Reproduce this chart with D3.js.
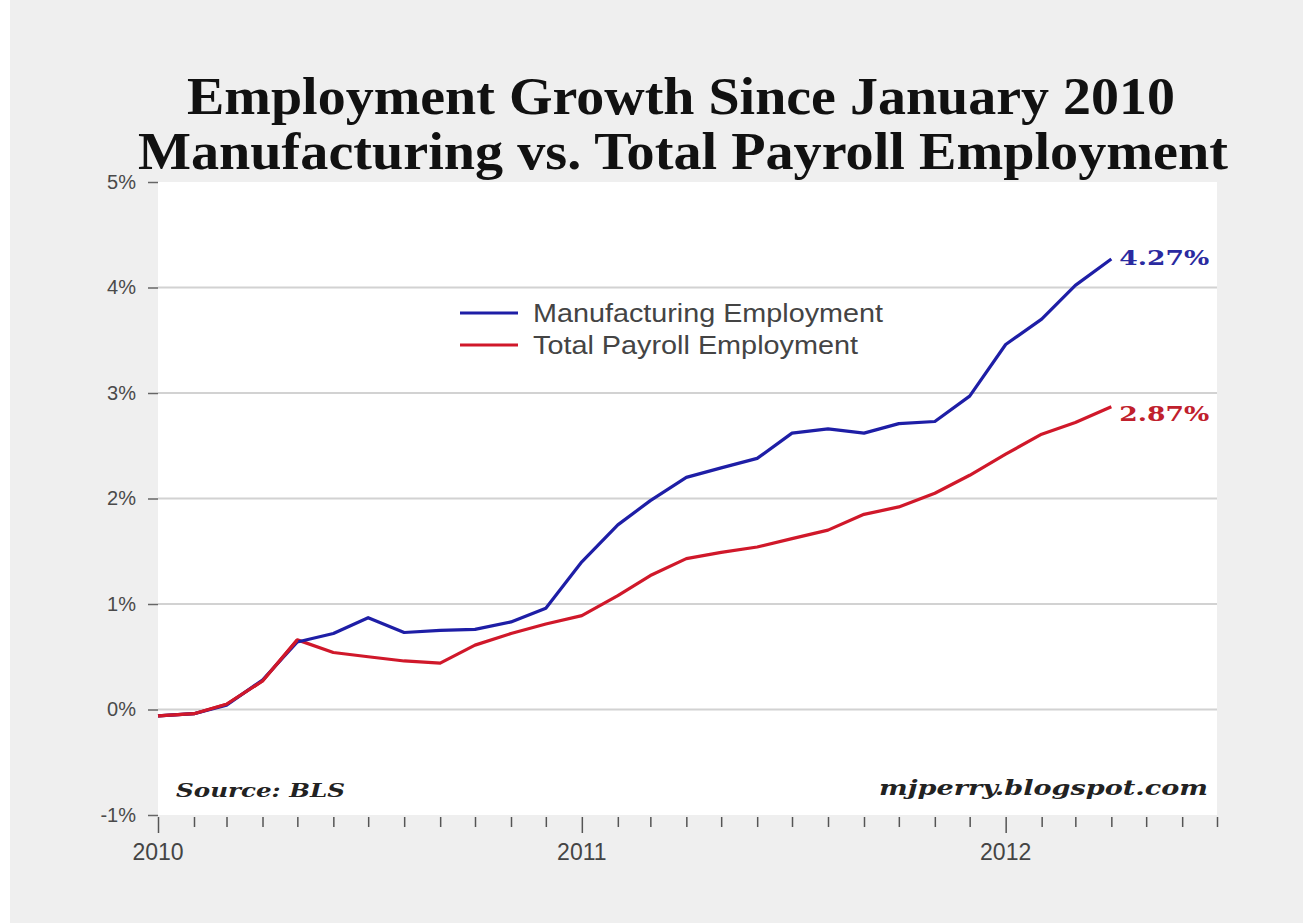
<!DOCTYPE html>
<html>
<head>
<meta charset="utf-8">
<script src="https://cdn.jsdelivr.net/npm/d3@7"></script>
<style>
  html, body { margin: 0; padding: 0; background: #efefef; }
  svg { display: block; }
</style>
</head>
<body>
<svg id="chart" width="1303" height="923"></svg>
<script>
// ---- data ----
const months = ["2010-01","2010-02","2010-03","2010-04","2010-05","2010-06","2010-07","2010-08","2010-09","2010-10","2010-11","2010-12",
                "2011-01","2011-02","2011-03","2011-04","2011-05","2011-06","2011-07","2011-08","2011-09","2011-10","2011-11","2011-12",
                "2012-01","2012-02","2012-03","2012-04"];
const manufacturing = [-0.06,-0.04,0.04,0.28,0.64,0.72,0.87,0.73,0.75,0.76,0.83,0.96,
                       1.40,1.75,1.98,2.20,2.29,2.38,2.62,2.66,2.62,2.71,2.73,2.97,
                       3.46,3.70,4.02,4.27];
const totalPayroll = [-0.06,-0.04,0.05,0.27,0.66,0.54,0.50,0.46,0.44,0.61,0.72,0.81,
                      0.89,1.08,1.27,1.43,1.49,1.54,1.62,1.70,1.85,1.92,2.05,2.22,
                      2.42,2.61,2.72,2.87];
const seriesNames = ["Manufacturing Employment","Total Payroll Employment"];
const yTicks = [-1,0,1,2,3,4,5];
const yearLabels = ["2010","2011","2012"];
const titleLines = ["Employment Growth Since January 2010","Manufacturing vs. Total Payroll Employment"];
const sourceText = "Source: BLS";
const creditText = "mjperry.blogspot.com";

// ---- layout ----
const svg = d3.select("#chart");
const parse = d3.timeParse("%Y-%m");
const dates = months.map(parse);
const plotLeft = 158, plotRight = 1217, plotTop = 182, plotBottom = 815;

const x = d3.scaleTime().domain([new Date(2010,0,1), new Date(2012,6,1)]).range([plotLeft, plotRight]);
const y = d3.scaleLinear().domain([-1,5]).range([plotBottom, plotTop]);

const blue = "#1e1ea6", red = "#d0182a";

// background strip at left edge
svg.append("rect").attr("x",0).attr("y",0).attr("width",10).attr("height",923).attr("fill","#ffffff");

// plot area
svg.append("rect").attr("x",plotLeft).attr("y",y(5)).attr("width",plotRight-plotLeft).attr("height",y(-1)-y(5)).attr("fill","#ffffff");

// gridlines
svg.append("g").selectAll("line").data(yTicks.filter(t => t>=0 && t<=4)).join("line")
  .attr("x1",plotLeft).attr("x2",plotRight).attr("y1",d=>y(d)).attr("y2",d=>y(d))
  .attr("stroke","#d2d2d2").attr("stroke-width",2);

// y axis
const yAxis = d3.axisLeft(y).tickValues(yTicks).tickFormat(d => d + "%").tickSize(10).tickPadding(12);
const gy = svg.append("g").attr("transform",`translate(${plotLeft},0)`).call(yAxis);
gy.select(".domain").remove();
gy.selectAll(".tick line").attr("stroke","#666").attr("stroke-width",1.5);
gy.selectAll(".tick text").attr("font-family","'Liberation Sans', Arial, sans-serif").attr("font-size",20).attr("fill","#4a4a4a");

// x axis: monthly ticks
const monthTicks = d3.timeMonth.range(new Date(2010,0,1), new Date(2012,6,2));
const xAxis = d3.axisBottom(x).tickValues(monthTicks).tickSize(12).tickFormat("");
const gx = svg.append("g").attr("transform",`translate(0,${plotBottom})`).call(xAxis);
gx.select(".domain").remove();
gx.selectAll(".tick line").attr("stroke","#555").attr("stroke-width",1.5)
  .attr("y1", 2)
  .attr("y2", d => d.getMonth()===0 ? 18 : 12);

// year labels
svg.append("g").selectAll("text").data(yearLabels).join("text")
  .attr("x", d => x(new Date(+d,0,1)))
  .attr("y", 860)
  .attr("text-anchor","middle")
  .attr("font-family","'Liberation Sans', Arial, sans-serif")
  .attr("font-size",23).attr("fill","#444")
  .text(d => d);

// lines
const line = d3.line().x((d,i)=>x(dates[i])).y(d=>y(d));
svg.append("path").datum(totalPayroll).attr("d",line).attr("fill","none").attr("stroke",red).attr("stroke-width",3.2).attr("stroke-linejoin","round");
svg.append("path").datum(manufacturing).attr("d",line).attr("fill","none").attr("stroke",blue).attr("stroke-width",3.2).attr("stroke-linejoin","round");

// redraw early overlap portion of red on top (red dominates up to May 2010 in reference)
svg.append("path").datum(totalPayroll.slice(0,5)).attr("d",line).attr("fill","none").attr("stroke",red).attr("stroke-width",3.2).attr("stroke-linejoin","round");

// end labels
const fmt = d3.format(".2f");
const endLabels = [
  {v: manufacturing[manufacturing.length-1], c: "#2a2aa0", dy: 6},
  {v: totalPayroll[totalPayroll.length-1], c: "#c0202c", dy: 14}
];
svg.append("g").selectAll("text").data(endLabels).join("text")
  .attr("x", x(dates[dates.length-1]) + 8)
  .attr("y", d => y(d.v) + d.dy)
  .attr("font-family","'DejaVu Serif', Georgia, serif")
  .attr("font-weight","bold")
  .attr("font-size",21)
  .attr("fill", d => d.c)
  .attr("textLength", 90).attr("lengthAdjust","spacingAndGlyphs")
  .text(d => fmt(d.v) + "%");

// legend
const legend = svg.append("g");
const legendItems = [{name: seriesNames[0], c: blue, ly: 313, w: 350}, {name: seriesNames[1], c: red, ly: 345, w: 325}];
legendItems.forEach(it => {
  legend.append("line").attr("x1",460).attr("x2",518).attr("y1",it.ly).attr("y2",it.ly).attr("stroke",it.c).attr("stroke-width",3);
  legend.append("text").attr("x",533).attr("y",it.ly+9)
    .attr("font-family","'Liberation Sans', Arial, sans-serif").attr("font-size",25).attr("fill","#444")
    .attr("textLength",it.w).attr("lengthAdjust","spacingAndGlyphs")
    .text(it.name);
});

// title
const titleSpec = [{t: titleLines[0], cx: 681, by: 114, w: 988}, {t: titleLines[1], cx: 683, by: 169, w: 1090}];
titleSpec.forEach(s => {
  svg.append("text").attr("x", s.cx - s.w/2).attr("y", s.by)
    .attr("font-family","'Liberation Serif', 'Times New Roman', serif")
    .attr("font-weight","bold").attr("font-size",52).attr("fill","#111")
    .attr("textLength", s.w).attr("lengthAdjust","spacingAndGlyphs")
    .text(s.t);
});

// source and credit
svg.append("text").attr("x",176).attr("y",797)
  .attr("font-family","'DejaVu Serif', Georgia, serif").attr("font-weight","bold").attr("font-style","italic")
  .attr("font-size",19).attr("fill","#222")
  .attr("textLength",169).attr("lengthAdjust","spacingAndGlyphs")
  .text(sourceText);
svg.append("text").attr("x",879).attr("y",795)
  .attr("font-family","'DejaVu Serif', Georgia, serif").attr("font-weight","bold").attr("font-style","italic")
  .attr("font-size",21).attr("fill","#222")
  .attr("textLength",329).attr("lengthAdjust","spacingAndGlyphs")
  .text(creditText);
</script>
</body>
</html>
